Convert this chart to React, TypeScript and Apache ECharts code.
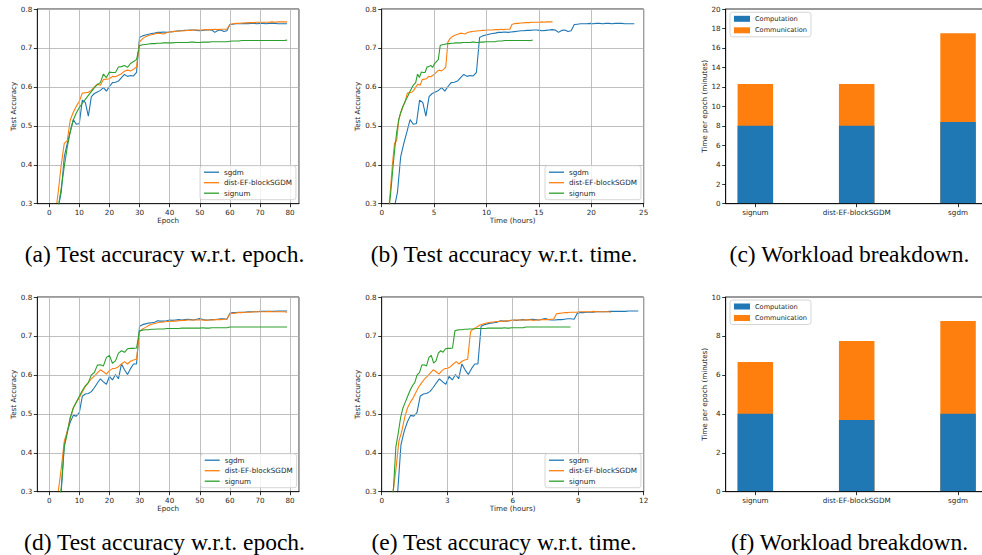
import React, { useEffect, useRef } from "react";
import * as echarts from "echarts";

// ---------- data ----------
const methods = ["sgdm", "dist-EF-blockSGDM", "signum"];
const lineColors = ["#1f77b4", "#ff7f0e", "#2ca02c"];

// test accuracy per epoch (epoch 0..79), setup 1 (top row)
const sgdmTop = [
  0.10, 0.17, 0.24, 0.29, 0.33, 0.42, 0.455, 0.485, 0.516, 0.504,
  0.506, 0.566, 0.560, 0.525, 0.575, 0.583, 0.587, 0.591, 0.598, 0.589,
  0.601, 0.611, 0.612, 0.615, 0.624, 0.632, 0.627, 0.629, 0.628, 0.637,
  0.727, 0.731, 0.733, 0.735, 0.737, 0.738, 0.740, 0.740, 0.741, 0.740,
  0.741, 0.742, 0.743, 0.744, 0.744, 0.745, 0.745, 0.746, 0.746, 0.745,
  0.744, 0.745, 0.746, 0.747, 0.746, 0.740, 0.745, 0.746, 0.742, 0.744,
  0.760, 0.761, 0.762, 0.762, 0.762, 0.763, 0.762, 0.763, 0.763, 0.762,
  0.763, 0.763, 0.762, 0.763, 0.763, 0.763, 0.762, 0.762, 0.762, 0.762,
];
const distTop = [
  0.12, 0.20, 0.27, 0.33, 0.40, 0.455, 0.462, 0.515, 0.535, 0.550,
  0.563, 0.584, 0.585, 0.586, 0.591, 0.600, 0.607, 0.604, 0.619, 0.620,
  0.621, 0.627, 0.626, 0.630, 0.634, 0.640, 0.643, 0.641, 0.645, 0.651,
  0.715, 0.724, 0.729, 0.732, 0.734, 0.736, 0.738, 0.737, 0.736, 0.739,
  0.741, 0.742, 0.743, 0.743, 0.744, 0.744, 0.745, 0.745, 0.746, 0.746,
  0.746, 0.746, 0.747, 0.747, 0.747, 0.748, 0.747, 0.748, 0.748, 0.748,
  0.760, 0.762, 0.763, 0.763, 0.764, 0.764, 0.765, 0.765, 0.765, 0.766,
  0.766, 0.766, 0.766, 0.766, 0.767, 0.766, 0.767, 0.767, 0.767, 0.767,
];
const signumTop = [
  0.10, 0.16, 0.22, 0.29, 0.34, 0.395, 0.445, 0.485, 0.515, 0.533,
  0.547, 0.558, 0.568, 0.578, 0.588, 0.598, 0.606, 0.611, 0.633, 0.624,
  0.638, 0.637, 0.637, 0.651, 0.652, 0.655, 0.650, 0.660, 0.665, 0.670,
  0.706, 0.708, 0.709, 0.710, 0.711, 0.711, 0.712, 0.712, 0.713, 0.713,
  0.713, 0.713, 0.714, 0.714, 0.714, 0.714, 0.714, 0.715, 0.715, 0.714,
  0.714, 0.715, 0.715, 0.715, 0.716, 0.716, 0.716, 0.716, 0.716, 0.716,
  0.717, 0.718, 0.718, 0.718, 0.719, 0.719, 0.719, 0.719, 0.719, 0.719,
  0.719, 0.719, 0.719, 0.719, 0.719, 0.719, 0.719, 0.719, 0.719, 0.720,
];

// setup 2 (bottom row)
const sgdmBottom = [
  0.08, 0.14, 0.20, 0.26, 0.30, 0.42, 0.455, 0.479, 0.496, 0.494,
  0.503, 0.545, 0.551, 0.552, 0.557, 0.567, 0.579, 0.590, 0.582, 0.576,
  0.596, 0.587, 0.601, 0.590, 0.628, 0.613, 0.601, 0.616, 0.628, 0.628,
  0.725, 0.729, 0.731, 0.733, 0.734, 0.735, 0.739, 0.738, 0.738, 0.739,
  0.741, 0.740, 0.741, 0.742, 0.741, 0.742, 0.743, 0.742, 0.741, 0.743,
  0.745, 0.742, 0.741, 0.741, 0.742, 0.742, 0.743, 0.744, 0.744, 0.743,
  0.758, 0.760, 0.760, 0.761, 0.761, 0.761, 0.762, 0.762, 0.762, 0.762,
  0.763, 0.763, 0.763, 0.763, 0.763, 0.763, 0.764, 0.764, 0.764, 0.764,
];
const distBottom = [
  0.10, 0.17, 0.24, 0.30, 0.36, 0.43, 0.455, 0.490, 0.515, 0.530,
  0.541, 0.556, 0.570, 0.580, 0.590, 0.597, 0.605, 0.613, 0.608, 0.602,
  0.611, 0.616, 0.617, 0.621, 0.628, 0.634, 0.628, 0.635, 0.638, 0.640,
  0.711, 0.718, 0.722, 0.727, 0.730, 0.732, 0.734, 0.735, 0.736, 0.737,
  0.737, 0.738, 0.738, 0.739, 0.740, 0.740, 0.741, 0.741, 0.741, 0.741,
  0.742, 0.741, 0.740, 0.741, 0.741, 0.742, 0.742, 0.742, 0.743, 0.743,
  0.757, 0.758, 0.759, 0.760, 0.760, 0.761, 0.761, 0.761, 0.762, 0.762,
  0.762, 0.762, 0.762, 0.763, 0.762, 0.762, 0.762, 0.762, 0.762, 0.761,
];
const signumBottom = [
  0.08, 0.14, 0.20, 0.26, 0.31, 0.415, 0.450, 0.490, 0.515, 0.530,
  0.545, 0.560, 0.572, 0.580, 0.600, 0.606, 0.625, 0.626, 0.623, 0.645,
  0.650, 0.630, 0.636, 0.656, 0.662, 0.658, 0.667, 0.668, 0.668, 0.669,
  0.713, 0.715, 0.716, 0.716, 0.717, 0.717, 0.718, 0.718, 0.718, 0.719,
  0.719, 0.719, 0.719, 0.719, 0.720, 0.720, 0.720, 0.720, 0.720, 0.720,
  0.720, 0.721, 0.720, 0.720, 0.721, 0.721, 0.721, 0.721, 0.721, 0.721,
  0.723, 0.723, 0.723, 0.723, 0.723, 0.723, 0.723, 0.723, 0.723, 0.723,
  0.723, 0.723, 0.723, 0.723, 0.723, 0.723, 0.723, 0.723, 0.723, 0.723,
];

// wall-clock hours at the end of training (sgdm, dist-EF-blockSGDM, signum)
const endHoursTop = [24.1, 16.3, 14.4];
const endHoursBottom = [11.75, 10.5, 8.65];

// workload breakdown (minutes per epoch): computation part and total bar height
const barCategories = ["signum", "dist-EF-blockSGDM", "sgdm"];
const computationTop = [8.0, 8.0, 8.4];
const totalTop = [12.3, 12.3, 17.5];
const computationBottom = [4.0, 3.68, 4.0];
const totalBottom = [6.66, 7.74, 8.77];

const captions = [
  "(a) Test accuracy w.r.t. epoch.",
  "(b) Test accuracy w.r.t. time.",
  "(c) Workload breakdown.",
  "(d) Test accuracy w.r.t. epoch.",
  "(e) Test accuracy w.r.t. time.",
  "(f) Workload breakdown.",
];

// ---------- styling helpers ----------
const FONT = "DejaVu Sans";
const TXT = "#262626";

const gridBoxes = [
  { left: 37.3, top: 9, width: 261.7, height: 194.7 },
  { left: 381.7, top: 9, width: 262, height: 194.7 },
  { left: 725.7, top: 9, width: 262, height: 194.7 },
  { left: 37.3, top: 297, width: 261.7, height: 194.7 },
  { left: 381.7, top: 297, width: 262, height: 194.7 },
  { left: 725.7, top: 297, width: 262, height: 194.7 },
];

const baseAxis = (gridIndex: number) => ({
  gridIndex,
  nameLocation: "middle",
  nameTextStyle: { fontSize: 7.2, color: TXT, fontFamily: FONT },
  axisLine: { show: true, onZero: false, lineStyle: { color: "#000", width: 0.8 } },
  axisTick: { show: true, inside: false, length: 3.5, lineStyle: { color: "#000", width: 0.8 } },
  axisLabel: { fontSize: 7.2, color: TXT, fontFamily: FONT, margin: 5 },
  splitLine: { show: false },
  z: 5,
});

const gridSplit = { show: true, lineStyle: { color: "#b0b0b0", width: 0.8 } };

const epochX = (g: number) => ({
  ...baseAxis(g),
  type: "value",
  min: -3.95,
  max: 82.95,
  minInterval: 10,
  maxInterval: 10,
  name: "Epoch",
  nameGap: 13,
  axisLabel: { ...baseAxis(g).axisLabel, showMinLabel: false, showMaxLabel: false },
  splitLine: gridSplit,
});

const timeX = (g: number, max: number, interval: number) => ({
  ...baseAxis(g),
  type: "value",
  min: 0,
  max,
  interval,
  name: "Time (hours)",
  nameGap: 13,
  splitLine: gridSplit,
});

const accY = (g: number) => ({
  ...baseAxis(g),
  type: "value",
  min: 0.3,
  max: 0.8,
  interval: 0.1,
  name: "Test Accuracy",
  nameGap: 20,
  axisLabel: { ...baseAxis(g).axisLabel, formatter: (v: number) => v.toFixed(1) },
  splitLine: gridSplit,
});

const barX = (g: number) => ({
  ...baseAxis(g),
  type: "value",
  min: -0.2925,
  max: 2.2925,
  minInterval: 1,
  maxInterval: 1,
  axisLabel: {
    ...baseAxis(g).axisLabel,
    showMinLabel: false,
    showMaxLabel: false,
    formatter: (v: number) => (Number.isInteger(v) ? barCategories[v] ?? "" : ""),
  },
});

const barY = (g: number, max: number) => ({
  ...baseAxis(g),
  type: "value",
  min: 0,
  max,
  interval: 2,
  name: "Time per epoch (minutes)",
  nameGap: 16,
});

const accSets = [
  [sgdmTop, distTop, signumTop],
  [sgdmBottom, distBottom, signumBottom],
];
const endHours = [endHoursTop, endHoursBottom];

const series: any[] = [];
[0, 1].forEach((row) => {
  const epochAxis = row * 3;
  const timeAxis = row * 3 + 1;
  accSets[row].forEach((acc, m) => {
    const common = {
      type: "line",
      name: methods[m],
      showSymbol: false,
      symbol: "none",
      clip: true,
      color: lineColors[m],
      lineStyle: { color: lineColors[m], width: 1.1 },
      z: 3 + m,
    };
    series.push({
      ...common,
      xAxisIndex: epochAxis,
      yAxisIndex: epochAxis,
      data: acc.map((v, i) => [i, v]),
    });
    series.push({
      ...common,
      xAxisIndex: timeAxis,
      yAxisIndex: timeAxis,
      data: acc.map((v, i) => [((i + 1) * endHours[row][m]) / acc.length, v]),
    });
  });
});

// total bar (communication on top) drawn first, computation part overlaid from 0
const barSets = [
  [computationTop, totalTop],
  [computationBottom, totalBottom],
];
[0, 1].forEach((row) => {
  const ax = row * 3 + 2;
  series.push({
    type: "bar",
    name: "Communication",
    xAxisIndex: ax,
    yAxisIndex: ax,
    barWidth: 35.5,
    barGap: "-100%",
    color: lineColors[1],
    itemStyle: { color: lineColors[1] },
    data: barSets[row][1].map((v, i) => [i, v]),
    z: 2,
  });
  series.push({
    type: "bar",
    name: "Computation",
    xAxisIndex: ax,
    yAxisIndex: ax,
    barWidth: 35.5,
    barGap: "-100%",
    color: lineColors[0],
    itemStyle: { color: lineColors[0] },
    data: barSets[row][0].map((v, i) => [i, v]),
    z: 3,
  });
});

const lineLegend = (left: number, top: number) => ({
  data: methods.map((name) => ({ name, icon: "rect" })),
  left,
  top,
  orient: "vertical",
  itemWidth: 15,
  itemHeight: 1.3,
  itemGap: 3.5,
  padding: [3, 4, 3, 4],
  borderColor: "#cccccc",
  borderWidth: 0.8,
  borderRadius: 2.5,
  backgroundColor: "rgba(255,255,255,0.8)",
  selectedMode: false,
  textStyle: { fontSize: 7.2, lineHeight: 7, color: TXT, fontFamily: FONT },
  z: 10,
});

const barLegend = (left: number, top: number) => ({
  data: [
    { name: "Computation", icon: "rect" },
    { name: "Communication", icon: "rect" },
  ],
  left,
  top,
  orient: "vertical",
  itemWidth: 16,
  itemHeight: 6,
  itemGap: 4.5,
  padding: [3, 4, 3, 4],
  borderColor: "#cccccc",
  borderWidth: 0.8,
  borderRadius: 2.5,
  backgroundColor: "rgba(255,255,255,0.8)",
  selectedMode: false,
  textStyle: { fontSize: 6.6, lineHeight: 6.5, color: TXT, fontFamily: FONT },
  z: 10,
});

const captionCenters = [164.5, 504, 849.5];
const captionGraphics = captions.map((text, i) => ({
  type: "text",
  x: captionCenters[i % 3],
  y: i < 3 ? 254 : 542,
  style: {
    text,
    fontFamily: "Liberation Serif",
    fontSize: 23.5,
    fill: "#000",
    align: "center",
    verticalAlign: "middle",
    textAlign: "center",
    textVerticalAlign: "middle",
  },
}));

const option: any = {
  animation: false,
  backgroundColor: "#fff",
  grid: gridBoxes.map((g) => ({
    ...g,
    show: true,
    borderColor: "#000",
    borderWidth: 0.8,
    backgroundColor: "transparent",
    containLabel: false,
    outerBoundsMode: "none",
  })),
  xAxis: [epochX(0), timeX(1, 25, 5), barX(2), epochX(3), timeX(4, 12, 3), barX(5)],
  yAxis: [accY(0), accY(1), barY(2, 20), accY(3), accY(4), barY(5, 10)],
  legend: [
    lineLegend(200, 165.7),
    lineLegend(545, 165.7),
    lineLegend(200.7, 453.7),
    lineLegend(545, 453.7),
    barLegend(730, 12.3),
    barLegend(730, 300),
  ],
  graphic: captionGraphics,
  series,
};

export default function App() {
  const ref = useRef<HTMLDivElement>(null);
  useEffect(() => {
    if (!ref.current) return;
    const chart = echarts.init(ref.current, null, { renderer: "svg" });
    chart.setOption(option);
    return () => chart.dispose();
  }, []);
  return (
    <div
      ref={ref}
      style={{ position: "absolute", left: 0, top: 0, width: 982, height: 555, background: "#fff" }}
    />
  );
}
